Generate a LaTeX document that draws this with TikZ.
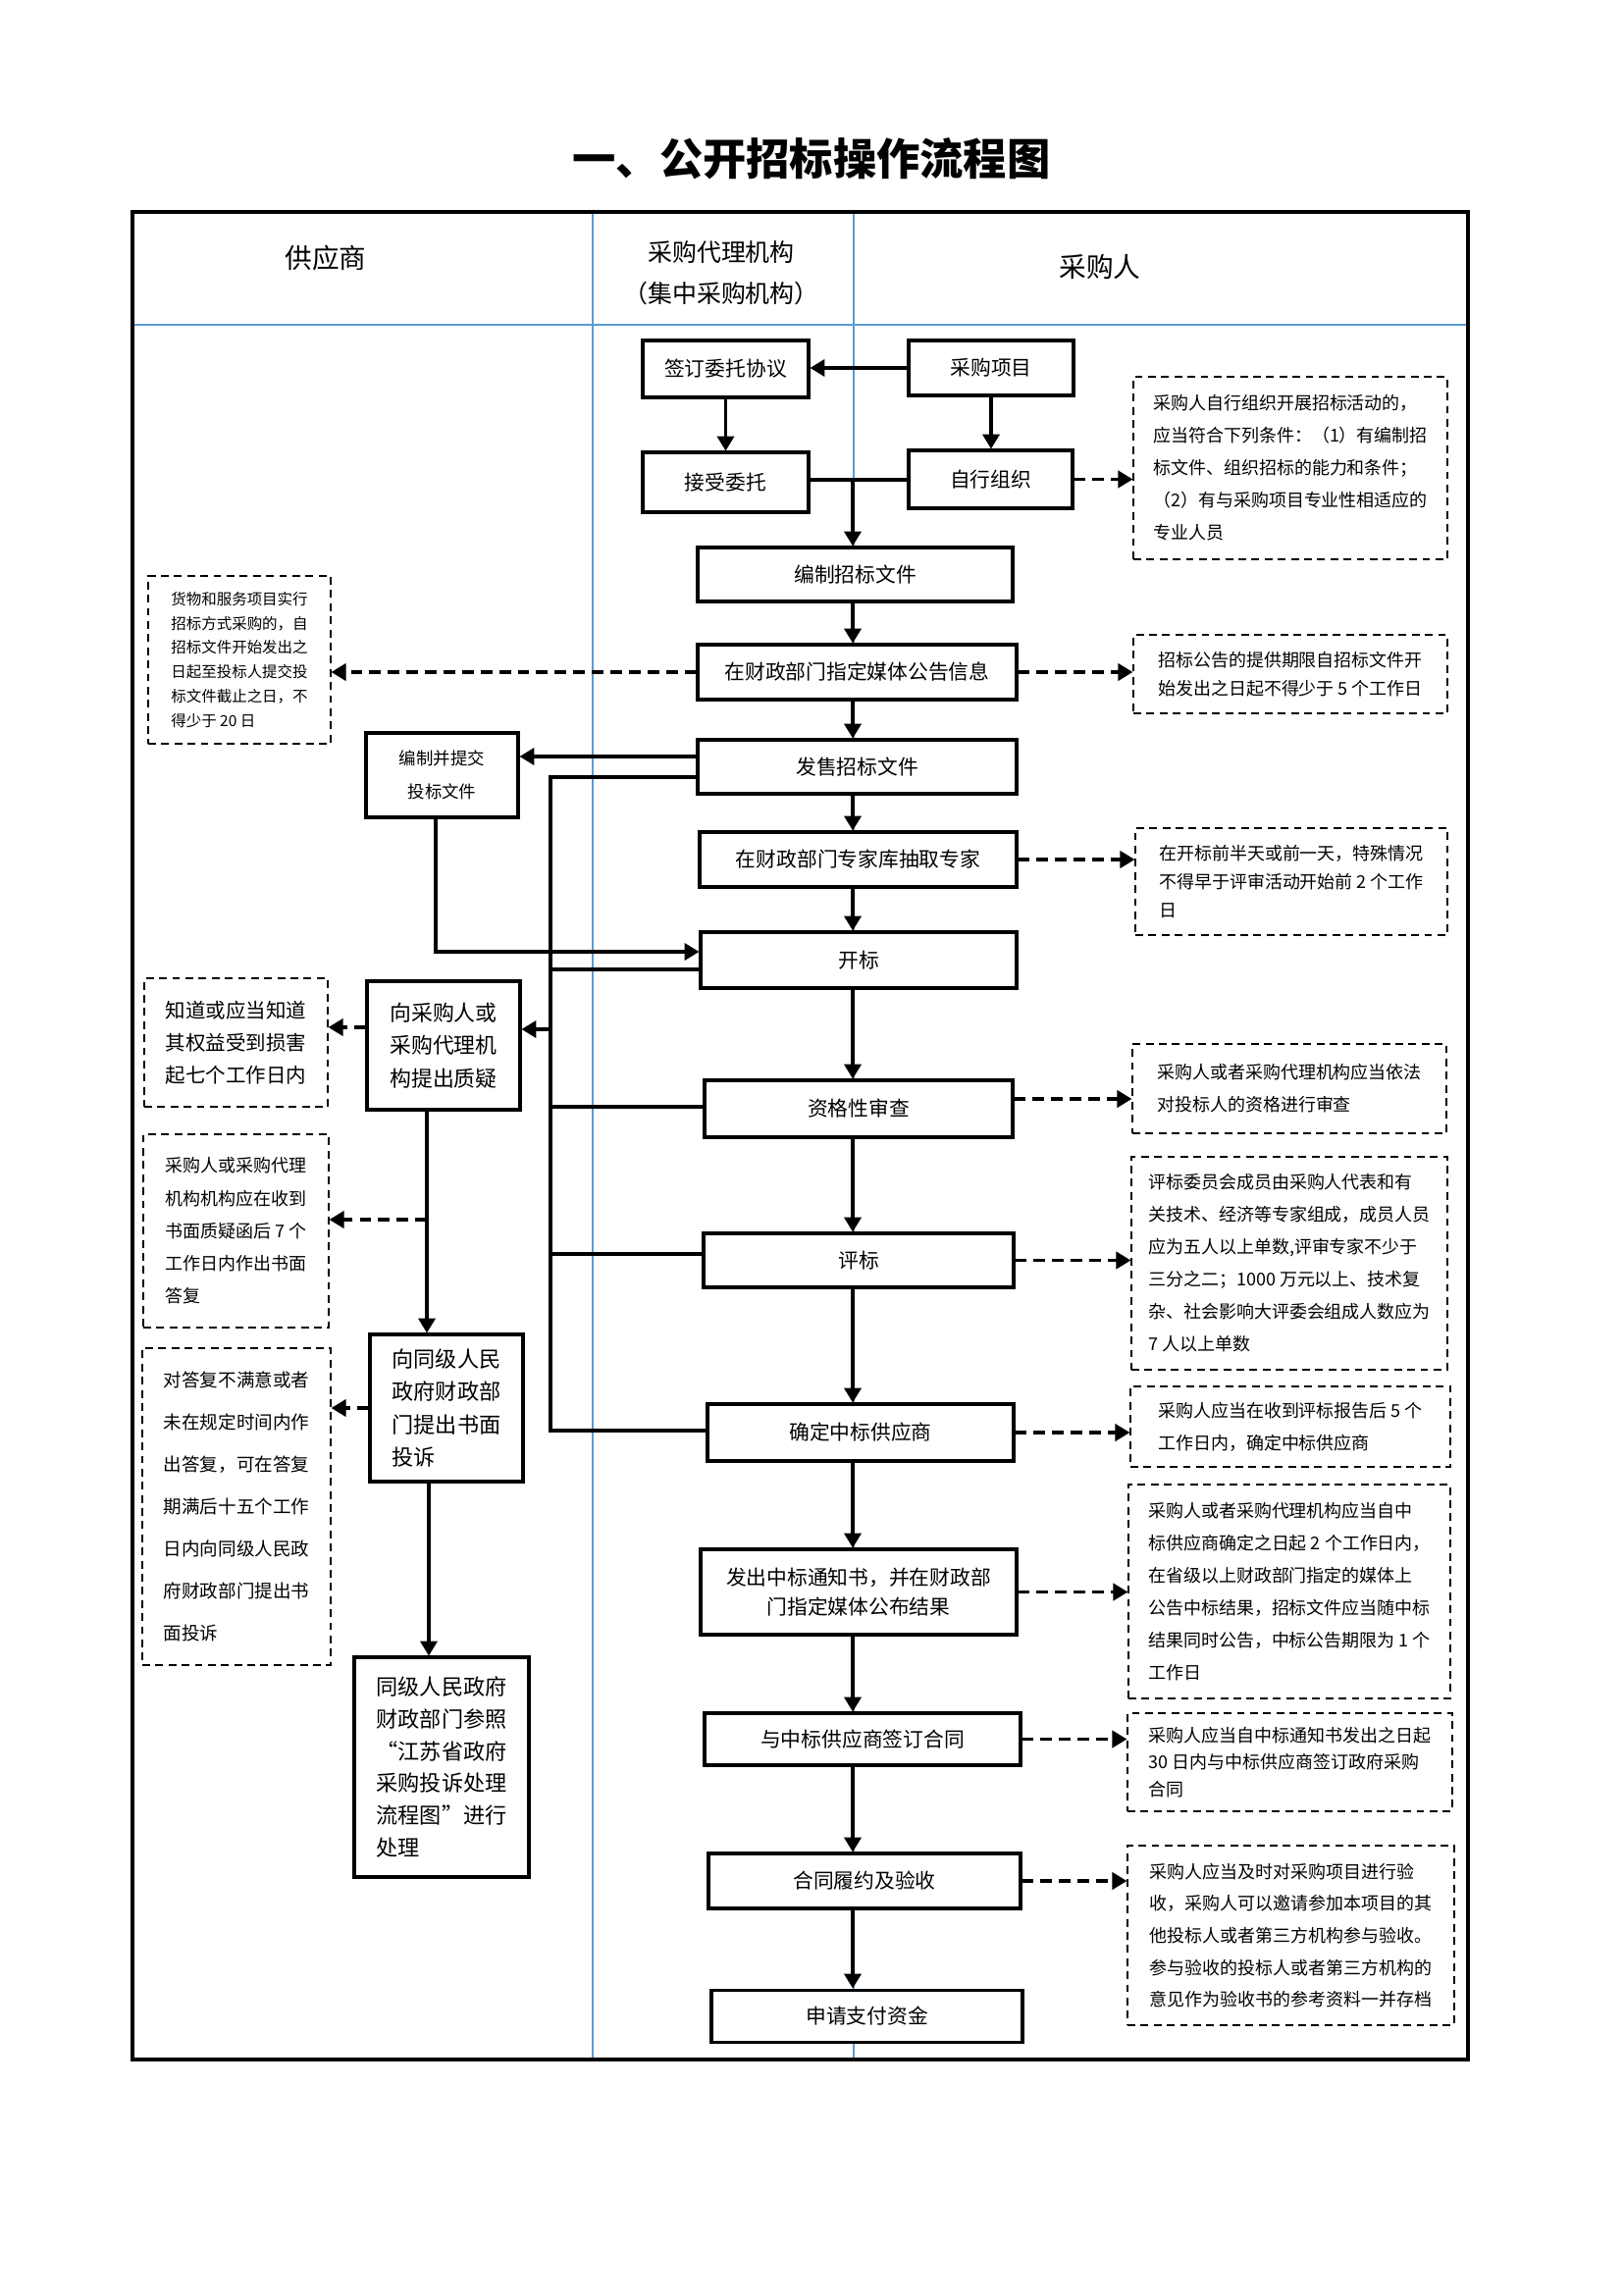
\documentclass[tikz,border=0pt]{standalone}
\usepackage{fontspec}
\setmainfont{Noto Sans CJK SC}
\usetikzlibrary{arrows.meta}
\definecolor{lanecol}{RGB}{91,155,213}
\begin{document}
\begin{tikzpicture}[x=0.127mm,y=-0.127mm,
  rect/.style n args={4}{at={({(#1+#3)/2},{(#2+#4)/2})}, minimum width={(#3-#1)*0.127mm}, minimum height={(#4-#2)*0.127mm}},
  box/.style={draw, line width=1.1pt, fill=white, inner sep=0pt, align=center, font=\fontsize{7.5pt}{10.8pt}\selectfont},
  lbox/.style={box, align=left, font=\fontsize{7.9pt}{12pt}\selectfont},
  note/.style={draw, dash pattern=on 1mm off 0.7mm, line width=0.45pt, fill=white, inner sep=0pt, align=left, font=\fontsize{6.5pt}{11.9pt}\selectfont},
  arr/.style={line width=1.1pt, -{Triangle[length=1.9mm,width=2.2mm]}},
  darr/.style={arr, dash pattern=on 1.5mm off 0.9mm},
  link/.style={line width=1.1pt},
  lane/.style={draw=lanecol, line width=0.5pt},
  head/.style={font=\fontsize{10pt}{12pt}\selectfont, inner sep=0pt, align=center}
]
\useasboundingbox (0,0) rectangle (1654,2339);
% title
\node[font=\fontsize{16pt}{19pt}\selectfont\bfseries] (title) at (827,162) {一、公开招标操作流程图};
% lanes
\draw[lane] (135,331) -- (1496,331);
\draw[lane] (604,216) -- (604,2099);
\draw[lane] (870,216) -- (870,2099);
\draw[line width=1.3pt] (135,216) rectangle (1496,2099);
\node[head] (h1) at (332,263) {供应商};
\node[head, font=\fontsize{9pt}{15pt}\selectfont] (h2) at (735,278) {采购代理机构\\（集中采购机构）};
\node[head] (h3) at (1121,272) {采购人};

% main boxes
\node[box, rect={655}{347}{824}{405}] (qd) {签订委托协议};
\node[box, rect={926}{347}{1094}{403}] (cg) {采购项目};
\node[box, rect={655}{461}{824}{522}] (js) {接受委托};
\node[box, rect={926}{459}{1093}{518}] (zx) {自行组织};
\node[box, rect={711}{558}{1032}{613}] (bz) {编制招标文件};
\node[box, rect={711}{657}{1036}{713}] (gg) {在财政部门指定媒体公告信息};
\node[box, rect={711}{754}{1036}{809}] (fs) {发售招标文件};
\node[box, rect={713}{848}{1036}{904}] (zj) {在财政部门专家库抽取专家};
\node[box, rect={714}{950}{1036}{1007}] (kb) {开标};
\node[box, rect={718}{1101}{1032}{1159}] (zg) {资格性审查};
\node[box, rect={717}{1257}{1033}{1312}] (pb) {评标};
\node[box, rect={721}{1431}{1033}{1489}] (qz) {确定中标供应商};
\node[box, rect={714}{1579}{1036}{1666}] (fc) {发出中标通知书，并在财政部\\门指定媒体公布结果};
\node[box, rect={718}{1746}{1040}{1799}] (qy) {与中标供应商签订合同};
\node[box, rect={722}{1889}{1040}{1945}] (ly) {合同履约及验收};
\node[box, rect={725}{2028}{1042}{2081}] (sq) {申请支付资金};

% supplier boxes
\node[box, font=\fontsize{6.3pt}{12.2pt}\selectfont, rect={373}{747}{528}{833}] (bj) {编制并提交\\投标文件};
\node[lbox, rect={374}{1000}{530}{1131}] (zy) {向采购人或\\采购代理机\\构提出质疑};
\node[lbox, font=\fontsize{8pt}{12pt}\selectfont, rect={377}{1360}{533}{1510}] (ts) {向同级人民\\政府财政部\\门提出书面\\投诉};
\node[lbox, font=\fontsize{8pt}{11.9pt}\selectfont, rect={361}{1689}{539}{1913}] (cl) {同级人民政府\\财政部门参照\\“江苏省政府\\采购投诉处理\\流程图”进行\\处理};

% right notes
\node[note, rect={1155}{384}{1475}{570}] (n1) {采购人自行组织开展招标活动的，\\应当符合下列条件：（1）有编制招\\标文件、组织招标的能力和条件；\\（2）有与采购项目专业性相适应的\\专业人员};
\node[note, font=\fontsize{6.5pt}{10.4pt}\selectfont, rect={1155}{647}{1475}{727}] (n2) {招标公告的提供期限自招标文件开\\始发出之日起不得少于 5 个工作日};
\node[note, font=\fontsize{6.5pt}{10.6pt}\selectfont, rect={1157}{844}{1475}{953}] (n3) {在开标前半天或前一天，特殊情况\\不得早于评审活动开始前 2 个工作\\日};
\node[note, rect={1154}{1064}{1474}{1155}] (n4) {采购人或者采购代理机构应当依法\\对投标人的资格进行审查};
\node[note, rect={1153}{1179}{1475}{1396}] (n5) {评标委员会成员由采购人代表和有\\关技术、经济等专家组成，成员人员\\应为五人以上单数,评审专家不少于\\三分之二；1000 万元以上、技术复\\杂、社会影响大评委会组成人数应为\\7 人以上单数};
\node[note, rect={1152}{1413}{1478}{1495}] (n6) {采购人应当在收到评标报告后 5 个\\工作日内，确定中标供应商};
\node[note, rect={1150}{1513}{1478}{1731}] (n7) {采购人或者采购代理机构应当自中\\标供应商确定之日起 2 个工作日内，\\在省级以上财政部门指定的媒体上\\公告中标结果，招标文件应当随中标\\结果同时公告，中标公告期限为 1 个\\工作日};
\node[note, font=\fontsize{6.5pt}{9.9pt}\selectfont, rect={1149}{1746}{1480}{1846}] (n8) {采购人应当自中标通知书发出之日起\\30 日内与中标供应商签订政府采购\\合同};
\node[note, font=\fontsize{6.5pt}{11.8pt}\selectfont, rect={1149}{1881}{1482}{2064}] (n9) {采购人应当及时对采购项目进行验\\收，采购人可以邀请参加本项目的其\\他投标人或者第三方机构参与验收。\\参与验收的投标人或者第三方机构的\\意见作为验收书的参考资料一并存档};

% left notes
\node[note, font=\fontsize{5.6pt}{9pt}\selectfont, rect={151}{587}{337}{758}] (ln1) {货物和服务项目实行\\招标方式采购的，自\\招标文件开始发出之\\日起至投标人提交投\\标文件截止之日，不\\得少于 20 日};
\node[note, font=\fontsize{7.4pt}{12pt}\selectfont, rect={147}{997}{334}{1128}] (ln2) {知道或应当知道\\其权益受到损害\\起七个工作日内};
\node[note, font=\fontsize{6.5pt}{12pt}\selectfont, rect={146}{1156}{335}{1353}] (ln3) {采购人或采购代理\\机构机构应在收到\\书面质疑函后 7 个\\工作日内作出书面\\答复};
\node[note, font=\fontsize{6.7pt}{15.5pt}\selectfont, rect={145}{1374}{337}{1697}] (ln4) {对答复不满意或者\\未在规定时间内作\\出答复，可在答复\\期满后十五个工作\\日内向同级人民政\\府财政部门提出书\\面投诉};

% helper coordinates
\coordinate (cx) at (869,0);
\coordinate (jm) at (869,489);
\coordinate (bx) at (561,0);
\coordinate (yA) at (0,771);
\coordinate (yB) at (0,792);
\coordinate (yC) at (0,970);
\coordinate (yD) at (0,988);
\coordinate (yE) at (0,1049);
\coordinate (yF) at (0,1128);
\coordinate (yG) at (0,1278);
\coordinate (yH) at (0,1458);
\coordinate (yI) at (0,1243);
\coordinate (yJ) at (0,1047);
\coordinate (yK) at (0,1120);
\coordinate (xq) at (444,0);
\coordinate (xz) at (435,0);
\coordinate (xt) at (437,0);

% connectors
\draw[arr] (cg.west) -- (cg.west -| qd.east);
\draw[arr] (qd.south) -- (qd.south |- js.north);
\draw[arr] (cg.south) -- (cg.south |- zx.north);
\draw[link] (js.east |- jm) -- (zx.west |- jm);
\draw[arr] (jm) -- (jm |- bz.north);
\draw[darr] (zx.east) -- (zx.east -| n1.west);
\draw[arr] (cx |- bz.south) -- (cx |- gg.north);
\draw[darr] (gg.east) -- (gg.east -| n2.west);
\draw[darr] (gg.west) -- (gg.west -| ln1.east);
\draw[arr] (cx |- gg.south) -- (cx |- fs.north);
\draw[arr] (fs.west |- yA) -- (bj.east |- yA);
\draw[link] (fs.west |- yB) -- (bx |- yB) -- (bx |- yH) -- (qz.west |- yH);
\draw[link] (bx |- yD) -- (kb.west |- yD);
\draw[arr] (bx |- yE) -- (zy.east |- yE);
\draw[link] (bx |- yF) -- (zg.west |- yF);
\draw[link] (bx |- yG) -- (pb.west |- yG);
\draw[arr] (xq |- bj.south) -- (xq |- yC) -- (kb.west |- yC);
\draw[arr] (cx |- fs.south) -- (cx |- zj.north);
\draw[darr] (zj.east) -- (zj.east -| n3.west);
\draw[arr] (cx |- zj.south) -- (cx |- kb.north);
\draw[arr] (cx |- kb.south) -- (cx |- zg.north);
\draw[darr] (zg.east |- yK) -- (n4.west |- yK);
\draw[arr] (cx |- zg.south) -- (cx |- pb.north);
\draw[darr] (pb.east) -- (pb.east -| n5.west);
\draw[arr] (cx |- pb.south) -- (cx |- qz.north);
\draw[darr] (qz.east) -- (qz.east -| n6.west);
\draw[arr] (cx |- qz.south) -- (cx |- fc.north);
\draw[darr] (fc.east) -- (fc.east -| n7.west);
\draw[arr] (cx |- fc.south) -- (cx |- qy.north);
\draw[darr] (qy.east) -- (qy.east -| n8.west);
\draw[arr] (cx |- qy.south) -- (cx |- ly.north);
\draw[darr] (ly.east) -- (ly.east -| n9.west);
\draw[arr] (cx |- ly.south) -- (cx |- sq.north);
\draw[darr] (zy.west |- yJ) -- (ln2.east |- yJ);
\draw[arr] (xz |- zy.south) -- (xz |- ts.north);
\draw[darr] (xz |- yI) -- (ln3.east |- yI);
\draw[darr] (ts.west) -- (ts.west -| ln4.east);
\draw[arr] (xt |- ts.south) -- (xt |- cl.north);
\end{tikzpicture}
\end{document}
